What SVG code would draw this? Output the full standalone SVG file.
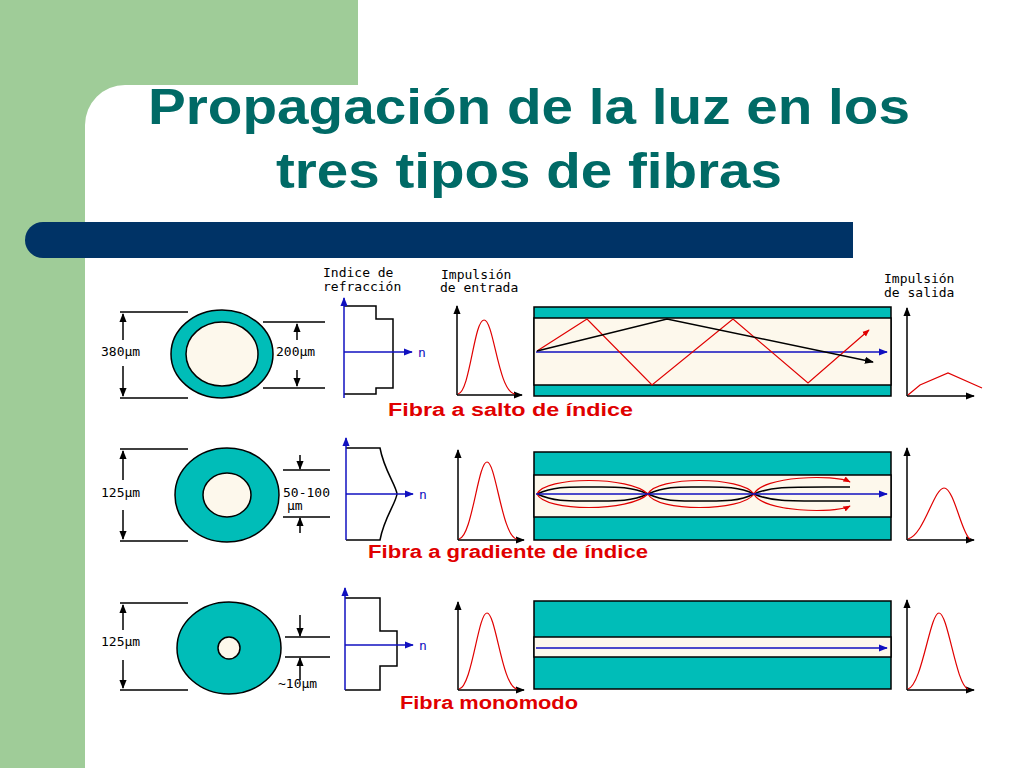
<svg xmlns="http://www.w3.org/2000/svg" width="1024" height="768" viewBox="0 0 1024 768">
<defs>
<style>
.t{font-family:"DejaVu Sans Mono","Liberation Mono",monospace;font-size:13px;fill:#000}
.lab{font-family:"Liberation Sans",Arial,sans-serif;font-weight:bold;font-size:18px;fill:#e00000}
.k{stroke:#000;stroke-width:1.5;fill:none}
.b{stroke:#1010c0;stroke-width:1.5;fill:none}
.r{stroke:#e00000;stroke-width:1.2;fill:none}
.clad{fill:#00bdb8;stroke:#000;stroke-width:1.5}
.core{fill:#fdf8ec;stroke:#000;stroke-width:1.5}
</style>
<marker id="ak" viewBox="0 0 10 10" refX="9" refY="5" markerWidth="6" markerHeight="6" orient="auto"><path d="M0,1 L10,5 L0,9 z" fill="#000"/></marker>
<marker id="ab" viewBox="0 0 10 10" refX="9" refY="5" markerWidth="6" markerHeight="6" orient="auto"><path d="M0,1 L10,5 L0,9 z" fill="#1010c0"/></marker>
<marker id="ar" viewBox="0 0 10 10" refX="9" refY="5" markerWidth="6" markerHeight="6" orient="auto"><path d="M0,1 L10,5 L0,9 z" fill="#e00000"/></marker>
</defs>
<rect width="1024" height="768" fill="#fff"/>
<rect x="0" y="0" width="358" height="85" fill="#9fcc98"/>
<rect x="0" y="0" width="85" height="768" fill="#9fcc98"/>
<path d="M85,85 h40 a40,40 0 0 0 -40,40 z" fill="#9fcc98"/>
<g font-family="Liberation Sans,Arial,sans-serif" font-weight="bold" font-size="50" fill="#006a66">
<text x="148" y="124" textLength="762" lengthAdjust="spacingAndGlyphs">Propagación de la luz en los</text>
<text x="276" y="188" textLength="506" lengthAdjust="spacingAndGlyphs">tres tipos de fibras</text>
</g>
<path d="M43,222 H853 V258 H43 A18,18 0 0 1 43,222 z" fill="#003366"/>

<g id="headers">
<text class="t" x="323" y="277">Indice de</text>
<text class="t" x="323" y="291">refracción</text>
<text class="t" x="441" y="279">Impulsión</text>
<text class="t" x="440" y="292">de entrada</text>
<text class="t" x="884" y="283">Impulsión</text>
<text class="t" x="884" y="297">de salida</text>
</g>

<g id="row1">
<ellipse class="clad" cx="222" cy="354" rx="51" ry="44"/>
<ellipse class="core" cx="222" cy="354" rx="36" ry="32"/>
<path class="k" d="M120,312 H188 M120,398 H188 M263,322 H325 M263,388 H325"/>
<path class="k" d="M123,340 V314" marker-end="url(#ak)"/>
<path class="k" d="M123,366 V396" marker-end="url(#ak)"/>
<path class="k" d="M297,340 V324" marker-end="url(#ak)"/>
<path class="k" d="M297,370 V386" marker-end="url(#ak)"/>
<text class="t" x="101" y="356">380µm</text>
<text class="t" x="276" y="356">200µm</text>
<path class="k" d="M344,306 H376 V319 H393 V388 H376 V394 H344"/>
<path class="b" d="M344,398 V298" marker-end="url(#ab)"/>
<path class="b" d="M344,352 H412" marker-end="url(#ab)"/>
<text class="t" x="418" y="357" style="fill:#1010c0">n</text>
<path class="k" d="M457,395 V306" marker-end="url(#ak)"/>
<path class="k" d="M457,395 H522" marker-end="url(#ak)"/>
<path class="r" d="M458,394 C470,392 474,320 484,320 C494,320 498,392 515,394"/>
<rect class="clad" x="534" y="307" width="357" height="89"/>
<rect class="core" x="534" y="318" width="357" height="67"/>
<path class="b" d="M536,352 H887" marker-end="url(#ab)"/>
<path class="r" d="M537,351 L587,319 L652,385 L733,319 L808,383 L869,330" marker-end="url(#ar)"/>
<path class="k" d="M537,351 L667,319 L873,362" marker-end="url(#ak)"/>
<path class="k" d="M907,396 V308" marker-end="url(#ak)"/>
<path class="k" d="M907,396 H974" marker-end="url(#ak)"/>
<path class="r" d="M908,395 L920,385 L948,373 L982,388"/>
<text class="lab" x="388" y="416" textLength="245" lengthAdjust="spacingAndGlyphs">Fibra a salto de índice</text>
</g>

<g id="row2">
<ellipse class="clad" cx="227" cy="495" rx="52" ry="47"/>
<ellipse class="core" cx="227" cy="495" rx="24" ry="22"/>
<path class="k" d="M120,449 H188 M120,541 H188 M283,470 H330 M283,517 H330"/>
<path class="k" d="M123,480 V451" marker-end="url(#ak)"/>
<path class="k" d="M123,510 V539" marker-end="url(#ak)"/>
<path class="k" d="M300,455 V469" marker-end="url(#ak)"/>
<path class="k" d="M300,533 V518" marker-end="url(#ak)"/>
<text class="t" x="101" y="497">125µm</text>
<text class="t" x="283" y="497">50-100</text>
<text class="t" x="287" y="510">µm</text>
<path class="k" d="M346,448 H380 C384,470 396,485 397,494 C396,503 384,518 380,540 H346"/>
<path class="b" d="M346,540 V438" marker-end="url(#ab)"/>
<path class="b" d="M346,494 H413" marker-end="url(#ab)"/>
<text class="t" x="419" y="499" style="fill:#1010c0">n</text>
<path class="k" d="M458,540 V450" marker-end="url(#ak)"/>
<path class="k" d="M458,540 H524" marker-end="url(#ak)"/>
<path class="r" d="M459,539 C472,537 478,462 487,462 C496,462 502,537 517,539"/>
<rect class="clad" x="534" y="452" width="357" height="88"/>
<rect class="core" x="534" y="475" width="357" height="42"/>
<path class="k" d="M537,494 C555,486 570,487 592,487 C614,487 630,486 648,494 C666,486 680,487 700,487 C720,487 738,486 754,494 C772,486 790,487 850,487 M537,494 C555,502 570,501 592,501 C614,501 630,502 648,494 C666,502 680,501 700,501 C720,501 738,502 754,494 C772,502 790,501 850,501"/>
<path class="r" d="M537,494 C545,476 630,476 648,494 C656,476 742,476 754,494 C762,476 835,474 850,482" marker-end="url(#ar)"/>
<path class="r" d="M537,494 C545,512 630,512 648,494 C656,512 742,512 754,494 C762,512 835,514 850,506" marker-end="url(#ar)"/>
<path class="b" d="M536,494 H887" marker-end="url(#ab)"/>
<path class="k" d="M907,540 V448" marker-end="url(#ak)"/>
<path class="k" d="M907,540 H974" marker-end="url(#ak)"/>
<path class="r" d="M908,539 C924,535 934,488 944,488 C954,488 962,535 970,539"/>
<text class="lab" x="368" y="558" textLength="280" lengthAdjust="spacingAndGlyphs">Fibra a gradiente de índice</text>
</g>

<g id="row3">
<ellipse class="clad" cx="229" cy="648" rx="52" ry="46"/>
<ellipse class="core" cx="229" cy="648" rx="11" ry="11"/>
<path class="k" d="M120,603 H188 M120,690 H188 M285,637 H330 M285,657 H330"/>
<path class="k" d="M123,630 V605" marker-end="url(#ak)"/>
<path class="k" d="M123,660 V688" marker-end="url(#ak)"/>
<path class="k" d="M300,615 V636" marker-end="url(#ak)"/>
<path class="k" d="M300,680 V658" marker-end="url(#ak)"/>
<text class="t" x="101" y="646">125µm</text>
<text class="t" x="278" y="688">~10µm</text>
<path class="k" d="M345,598 H380 V631 H397 V666 H380 V690 H345"/>
<path class="b" d="M345,690 V588" marker-end="url(#ab)"/>
<path class="b" d="M345,645 H413" marker-end="url(#ab)"/>
<text class="t" x="419" y="650" style="fill:#1010c0">n</text>
<path class="k" d="M458,690 V602" marker-end="url(#ak)"/>
<path class="k" d="M458,690 H524" marker-end="url(#ak)"/>
<path class="r" d="M459,689 C472,687 478,613 487,613 C496,613 502,687 517,689"/>
<rect class="clad" x="534" y="601" width="357" height="88"/>
<rect class="core" x="534" y="637" width="357" height="20"/>
<path class="b" d="M536,648 H887" marker-end="url(#ab)"/>
<path class="k" d="M907,690 V600" marker-end="url(#ak)"/>
<path class="k" d="M907,690 H974" marker-end="url(#ak)"/>
<path class="r" d="M908,689 C922,685 930,613 939,613 C948,613 956,685 968,689"/>
<text class="lab" x="400" y="709" textLength="178" lengthAdjust="spacingAndGlyphs">Fibra monomodo</text>
</g>
</svg>
